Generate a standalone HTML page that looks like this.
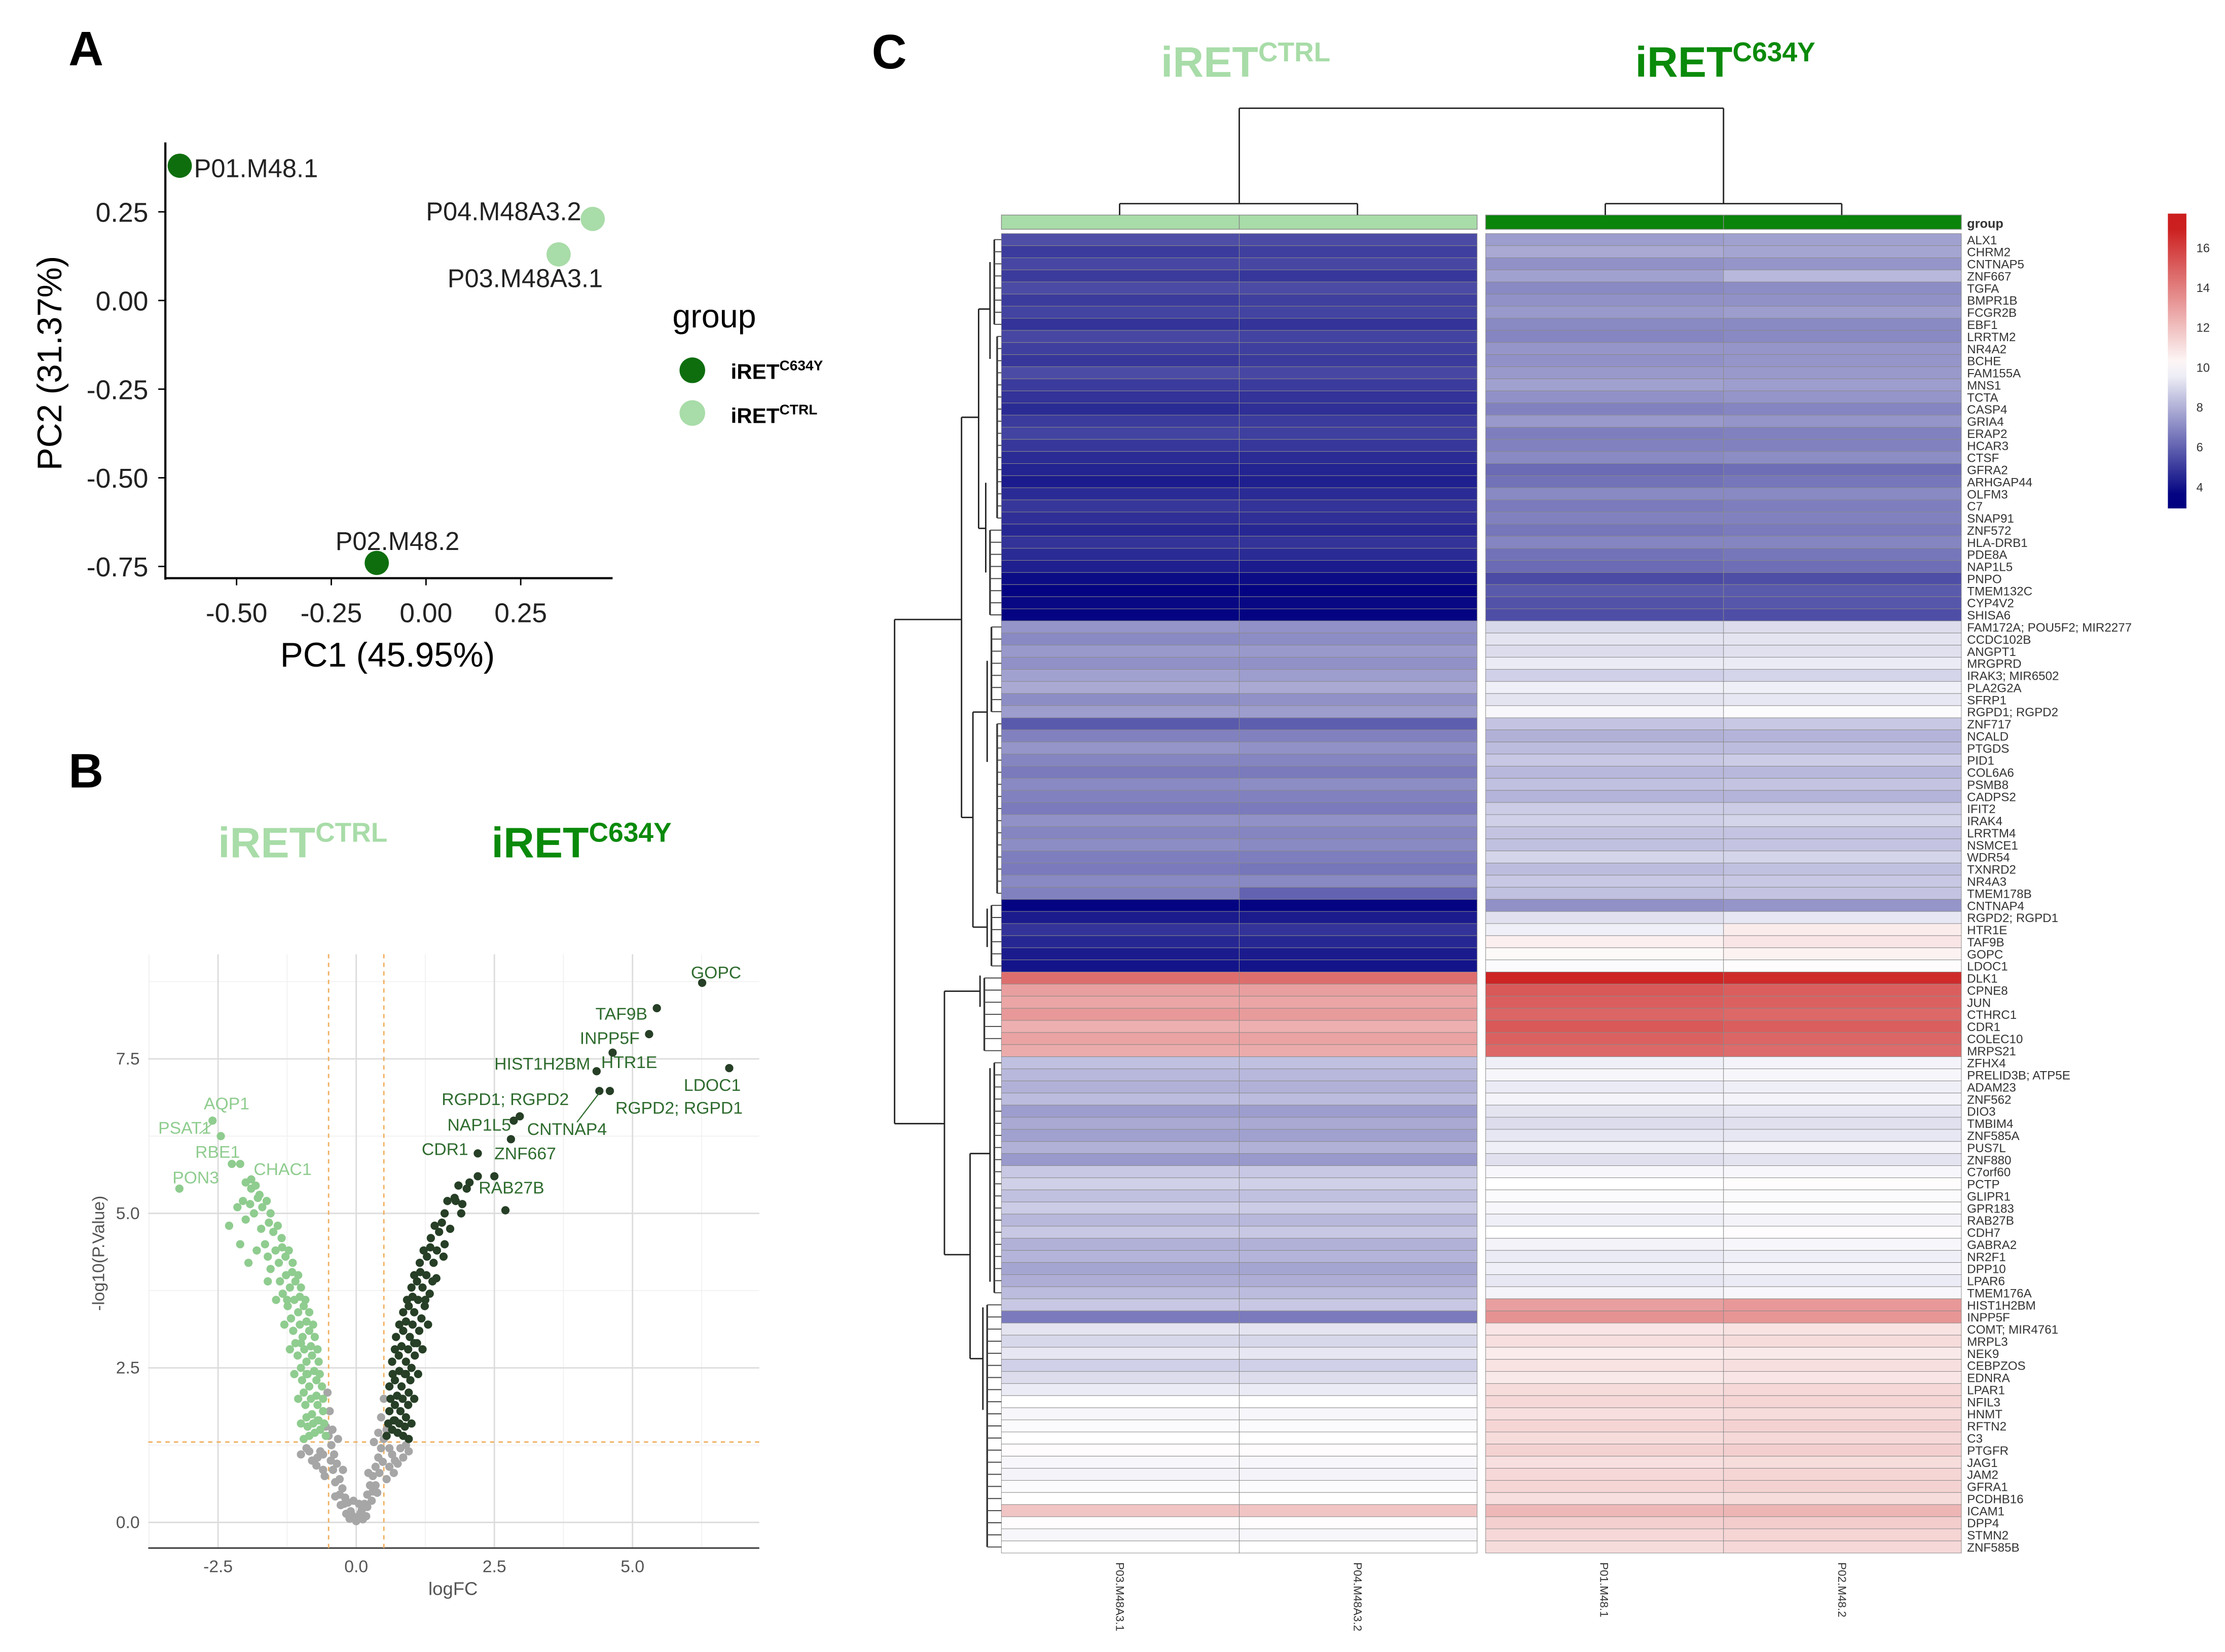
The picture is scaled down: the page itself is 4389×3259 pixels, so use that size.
<!DOCTYPE html>
<html><head><meta charset="utf-8"><style>
html,body{margin:0;padding:0;background:#fff;}
svg{display:block;font-family:"Liberation Sans",Arial,sans-serif;}
</style></head><body>
<svg id="root" xmlns="http://www.w3.org/2000/svg" width="4389" height="3259" viewBox="0 0 1562 1160">
<rect x="0" y="0" width="1562" height="1160" fill="#fff"/>
<text x="48" y="46" font-size="34" font-weight="bold">A</text>
<text x="48" y="553" font-size="34" font-weight="bold">B</text>
<text x="612" y="48" font-size="34" font-weight="bold">C</text>

<g id="pca">
<line x1="116" y1="100" x2="116" y2="407" stroke="#000" stroke-width="1.5"/>
<line x1="116" y1="406" x2="430" y2="406" stroke="#000" stroke-width="1.5"/>
<text x="272" y="468" font-size="24" text-anchor="middle">PC1 (45.95%)</text>
<text transform="translate(43,255) rotate(-90)" font-size="24" text-anchor="middle">PC2 (31.37%)</text>
<text x="472" y="230" font-size="23">group</text>
<circle cx="486" cy="260" r="9" fill="#0e6e0e"/>
<circle cx="486" cy="290" r="9" fill="#a8dca8"/>
<text x="513" y="266" font-size="15" font-weight="bold">iRET<tspan font-size="10" dy="-6">C634Y</tspan></text>
<text x="513" y="297" font-size="15" font-weight="bold">iRET<tspan font-size="10" dy="-6">CTRL</tspan></text>
</g>

<text x="153" y="602" font-size="30" font-weight="bold" fill="#a8dca8">iRET<tspan font-size="19" dy="-11">CTRL</tspan></text>
<text x="345" y="602" font-size="30" font-weight="bold" fill="#0a8a0a">iRET<tspan font-size="19" dy="-11">C634Y</tspan></text>
<g id="volcano"></g>

<text x="815" y="54" font-size="30" font-weight="bold" fill="#a8dca8">iRET<tspan font-size="19" dy="-11">CTRL</tspan></text>
<text x="1148" y="54" font-size="30" font-weight="bold" fill="#0a8a0a">iRET<tspan font-size="19" dy="-11">C634Y</tspan></text>
<g id="heatmap"></g>
</svg>
<script>
const NS="http://www.w3.org/2000/svg";
// ---------- PCA data ----------
const pcaSamples=["P01.M48.1","P04.M48A3.2","P03.M48A3.1","P02.M48.2"];
const pcaPC1=[-0.65,0.44,0.35,-0.13];
const pcaPC2=[0.38,0.23,0.13,-0.74];
const pcaGroup=["C634Y","CTRL","CTRL","C634Y"];
const pcaXTicks=[-0.50,-0.25,0.00,0.25];
const pcaYTicks=[0.25,0.00,-0.25,-0.50,-0.75];
// ---------- Volcano data ----------
const grayFC=[0,0.05,-0.05,0.1,-0.1,0.15,-0.15,0.2,-0.2,0.25,-0.25,0.3,-0.3,0.35,-0.35,0.4,-0.4,0.45,-0.45,0.5,-0.5,0.55,-0.55,0.45,-0.48,0.5,-0.52,0.6,-0.6,0.7,-0.7,0.8,-0.85,0.9,-0.9,0.2,-0.22,0.3,-0.3,0.12,-0.12,0.35,-0.38,0.42,-0.42,0.6,-0.6,0.05,-0.05,0.65,-0.65,0.75,-0.78,0.08,-0.08,0.18,-0.18,0.28,-0.28,0.38,-0.38,0.48,-0.46,0.55,-0.57,0.68,-0.72,0.85,-0.8,0.95,-1.0,0.4,-0.43,0.32,-0.33,0.22,-0.24];
const grayP=[0.02,0.1,0.08,0.2,0.18,0.3,0.32,0.45,0.4,0.6,0.55,0.75,0.7,0.9,0.95,1.05,1.1,1.2,1.25,1.35,1.4,1.5,1.55,1.7,1.8,2.0,2.1,1.2,1.1,1.0,1.05,1.2,1.15,1.25,1.2,0.25,0.3,0.5,0.45,0.05,0.06,0.6,0.65,0.8,0.85,0.9,0.85,0.3,0.35,1.1,1.15,0.95,1.0,0.15,0.12,0.1,0.14,0.35,0.28,0.48,0.42,0.98,1.0,0.7,0.75,0.8,0.92,1.05,1.0,1.15,1.1,1.45,1.5,1.3,1.35,0.8,0.85];
const downFC=[-0.55,-0.65,-0.75,-0.85,-0.95,-0.6,-0.7,-0.8,-0.9,-1.0,-0.62,-0.72,-0.85,-0.95,-1.05,-0.68,-0.8,-0.9,-1.0,-1.12,-0.75,-0.85,-0.97,-1.1,-1.2,-0.85,-0.95,-1.05,-1.18,-1.3,-1.0,-1.1,-1.2,-1.33,-1.45,-1.15,-1.28,-1.4,-1.55,-1.35,-1.5,-1.65,-1.8,-1.55,-1.7,-1.85,-2.0,-1.75,-1.9,-2.05,-2.3,-2.1,-1.95,-2.6,-2.45,-2.25,-2.1,-3.2,-1.9,-0.7,-0.9,-1.0,-1.25,-1.6,-0.58,-0.68,-0.78,-0.88,-0.6,-0.72,-0.82,-0.92,-0.66,-0.76,-0.88,-0.98,-0.7,-0.82,-0.94,-1.06,-0.78,-0.9,-1.02,-1.14,-0.92,-1.02,-1.12,-1.24,-1.05,-1.16,-1.27,-1.38,-1.22,-1.34,-1.46,-1.6,-1.42,-1.58,-1.72,-1.62,-1.78,-1.92,-1.82,-2.0,-2.15];
const downP=[1.4,1.5,1.45,1.4,1.35,1.8,1.9,1.75,1.7,1.6,2.2,2.3,2.2,2.1,2.0,2.6,2.7,2.6,2.5,2.4,3.0,3.1,3.0,2.9,2.8,3.4,3.5,3.4,3.3,3.2,3.8,3.9,3.8,3.7,3.6,4.2,4.3,4.2,4.1,4.6,4.7,4.5,4.4,5.0,5.1,5.0,4.9,5.3,5.4,5.2,4.8,4.5,4.2,6.5,6.25,5.8,5.8,5.4,5.55,1.65,2.4,2.9,3.6,3.9,1.6,1.65,1.6,1.55,2.0,2.05,2.0,1.9,2.4,2.45,2.4,2.3,2.8,2.85,2.8,2.7,3.2,3.25,3.2,3.1,3.6,3.65,3.6,3.5,4.0,4.05,4.0,3.9,4.4,4.45,4.4,4.3,4.8,4.85,4.75,5.2,5.25,5.15,5.45,5.5,5.1];
const upFC=[0.55,0.65,0.75,0.85,0.95,0.6,0.7,0.8,0.9,1.0,0.6,0.7,0.82,0.95,1.05,0.65,0.77,0.9,1.0,1.12,0.72,0.85,0.97,1.1,1.2,0.85,0.95,1.05,1.18,1.3,1.0,1.1,1.2,1.33,1.15,1.28,1.4,1.35,1.5,1.6,1.6,1.8,1.9,2.0,2.2,2.7,6.26,5.44,5.3,4.64,6.75,4.35,4.59,4.4,2.96,2.85,2.8,2.2,2.5,0.7,0.9,1.05,1.25,1.45,0.58,0.68,0.78,0.88,0.62,0.74,0.84,0.94,0.66,0.78,0.88,0.98,0.7,0.82,0.94,1.06,0.78,0.9,1.02,1.14,0.92,1.02,1.12,1.24,1.05,1.16,1.27,1.38,1.22,1.34,1.46,1.58,1.42,1.55,1.7,1.65,1.78,1.92,1.85,2.05];
const upP=[1.4,1.5,1.45,1.4,1.35,1.8,1.9,1.8,1.7,1.6,2.2,2.3,2.2,2.1,2.0,2.6,2.7,2.6,2.5,2.4,3.0,3.1,3.0,2.9,2.8,3.4,3.5,3.4,3.3,3.2,3.8,3.9,3.8,3.7,4.2,4.3,4.2,4.6,4.7,4.5,5.0,5.2,5.0,5.4,5.6,5.05,8.73,8.32,7.9,7.6,7.35,7.3,6.98,6.98,6.57,6.5,6.2,5.97,5.6,1.65,2.4,2.9,3.6,3.95,1.6,1.65,1.6,1.55,2.0,2.05,2.0,1.9,2.4,2.45,2.4,2.3,2.8,2.85,2.8,2.7,3.2,3.25,3.2,3.1,3.6,3.65,3.6,3.5,4.0,4.05,4.0,3.9,4.4,4.45,4.4,4.3,4.8,4.85,4.75,5.2,5.25,5.15,5.45,5.5];
const volXTicks=[-2.5,0.0,2.5,5.0];
const volYTicks=[0.0,2.5,5.0,7.5];
const volLabels=["GOPC","TAF9B","INPP5F","HIST1H2BM","HTR1E","LDOC1","RGPD1; RGPD2","RGPD2; RGPD1","NAP1L5","CNTNAP4","CDR1","ZNF667","RAB27B","AQP1","PSAT1","RBE1","PON3","CHAC1"];
// ---------- Heatmap data ----------
const genes=["ALX1","CHRM2","CNTNAP5","ZNF667","TGFA","BMPR1B","FCGR2B","EBF1","LRRTM2","NR4A2","BCHE","FAM155A","MNS1","TCTA","CASP4","GRIA4","ERAP2","HCAR3","CTSF","GFRA2","ARHGAP44","OLFM3","C7","SNAP91","ZNF572","HLA-DRB1","PDE8A","NAP1L5","PNPO","TMEM132C","CYP4V2","SHISA6","FAM172A; POU5F2; MIR2277","CCDC102B","ANGPT1","MRGPRD","IRAK3; MIR6502","PLA2G2A","SFRP1","RGPD1; RGPD2","ZNF717","NCALD","PTGDS","PID1","COL6A6","PSMB8","CADPS2","IFIT2","IRAK4","LRRTM4","NSMCE1","WDR54","TXNRD2","NR4A3","TMEM178B","CNTNAP4","RGPD2; RGPD1","HTR1E","TAF9B","GOPC","LDOC1","DLK1","CPNE8","JUN","CTHRC1","CDR1","COLEC10","MRPS21","ZFHX4","PRELID3B; ATP5E","ADAM23","ZNF562","DIO3","TMBIM4","ZNF585A","PUS7L","ZNF880","C7orf60","PCTP","GLIPR1","GPR183","RAB27B","CDH7","GABRA2","NR2F1","DPP10","LPAR6","TMEM176A","HIST1H2BM","INPP5F","COMT; MIR4761","MRPL3","NEK9","CEBPZOS","EDNRA","LPAR1","NFIL3","HNMT","RFTN2","C3","PTGFR","JAG1","JAM2","GFRA1","PCDHB16","ICAM1","DPP4","STMN2","ZNF585B"];
const sampleNames=["P03.M48A3.1","P04.M48A3.2","P01.M48.1","P02.M48.2"];
const ctrlA=[5.5,5.0,5.3,5.0,5.4,5.0,5.2,4.8,5.3,5.1,4.9,5.4,5.0,4.8,4.6,5.0,5.2,4.9,4.6,4.4,4.2,4.6,4.9,4.7,4.5,4.8,4.6,4.3,3.8,3.6,3.7,3.6,7.3,7.0,7.4,7.2,7.6,7.8,7.1,7.5,5.8,6.8,7.3,6.9,6.6,7.0,6.8,6.6,7.2,6.9,7.1,6.7,6.6,7.0,6.8,3.6,4.2,4.8,4.5,4.2,4.0,14.5,13.0,12.8,13.2,12.5,12.9,12.6,8.4,8.2,8.0,8.3,7.5,7.8,7.6,8.0,7.4,8.6,8.8,8.4,8.7,8.2,8.6,8.0,8.1,7.7,7.9,8.3,8.6,6.6,9.3,9.0,9.4,8.8,9.1,9.5,10.0,9.8,9.9,10.0,10.1,9.8,9.7,9.9,10.0,11.8,10.1,9.8,10.0];
const ctrlB=[5.4,5.1,5.3,4.9,5.4,5.1,5.2,4.8,5.2,5.1,5.0,5.3,5.0,4.8,4.7,5.0,5.1,4.9,4.6,4.4,4.3,4.6,4.8,4.7,4.5,4.8,4.6,4.2,3.8,3.6,3.7,3.6,7.2,7.1,7.4,7.2,7.5,7.8,7.2,7.5,5.9,6.8,7.2,6.9,6.6,7.1,6.8,6.6,7.2,6.9,7.0,6.7,6.5,7.0,6.0,3.6,4.2,4.8,4.5,4.2,4.0,14.5,13.0,12.8,13.1,12.5,12.9,12.6,8.4,8.2,8.0,8.3,7.5,7.8,7.6,8.0,7.4,8.6,8.8,8.4,8.7,8.2,8.6,8.0,8.1,7.7,7.9,8.3,8.6,6.6,9.3,9.0,9.4,8.8,9.1,9.5,10.0,9.8,9.9,10.0,10.1,9.8,9.7,9.9,10.0,11.8,10.1,9.8,10.0];
const mutA=[7.5,7.8,7.2,7.6,7.0,7.2,7.4,7.0,6.9,7.3,7.2,7.4,7.6,7.2,6.8,7.4,6.7,6.8,7.0,6.2,6.4,7.0,6.6,6.8,6.5,6.9,6.4,6.2,5.4,5.8,5.6,5.5,9.0,9.3,9.1,9.5,8.8,9.6,9.3,9.8,8.5,8.0,8.3,8.6,8.2,8.4,8.1,8.7,8.8,8.5,8.4,8.9,8.3,8.6,8.4,7.2,9.2,9.6,10.5,10.2,9.9,16.8,15.2,15.0,14.8,15.2,14.9,14.7,9.6,9.8,9.5,9.7,9.3,9.1,9.4,9.6,9.2,9.8,10.0,9.9,9.8,9.6,10.0,9.7,9.5,9.6,9.4,9.7,13.0,13.4,10.8,11.0,10.6,10.9,10.7,11.1,11.2,11.0,11.3,11.1,11.4,11.0,11.2,11.3,11.0,12.2,11.5,11.2,11.1];
const mutB=[7.6,7.7,7.3,8.2,7.1,7.2,7.5,7.0,7.0,7.3,7.3,7.4,7.5,7.3,6.9,7.3,6.8,6.8,7.1,6.3,6.5,7.0,6.7,6.8,6.6,6.9,6.5,6.3,5.5,5.8,5.7,5.5,9.1,9.3,9.2,9.5,8.9,9.6,9.4,9.9,8.6,8.1,8.3,8.7,8.2,8.5,8.1,8.7,8.9,8.5,8.5,8.9,8.4,8.6,8.5,7.3,9.4,10.6,10.8,10.4,10.1,16.6,15.0,14.9,14.7,15.0,14.8,14.6,9.7,9.8,9.6,9.7,9.4,9.2,9.4,9.7,9.3,9.8,10.1,9.9,9.9,9.7,10.1,9.8,9.6,9.7,9.5,9.8,13.2,13.3,10.9,11.1,10.7,11.0,10.8,11.2,11.3,11.1,11.4,11.2,11.5,11.1,11.3,11.4,11.1,12.3,11.6,11.3,11.2];
const colorbarTicks=[16,14,12,10,8,6,4];

function mk(tag,attrs,parent){const e=document.createElementNS(NS,tag);for(const k in attrs)e.setAttribute(k,attrs[k]);(parent||document.getElementById('root')).appendChild(e);return e;}

(function(){
  const g=document.getElementById('pca');
  const px=v=>299+v*266, py=v=>211-v*249;
  pcaXTicks.forEach(t=>{
    const l=mk('line',{x1:px(t),x2:px(t),y1:406,y2:411,stroke:'#000'},g);
    
    
    const tx=mk('text',{x:px(t),y:437,'font-size':19,'text-anchor':'middle',fill:'#222'},g);
    
    
    tx.textContent=t.toFixed(2);
  });
  pcaYTicks.forEach(t=>{
    const l=mk('line',{x1:111,x2:116,y1:py(t),y2:py(t),stroke:'#000'},g);
    
    
    const tx=mk('text',{x:104,y:py(t)+7,'font-size':19,'text-anchor':'end',fill:'#222'},g);
    
    
    tx.textContent=t.toFixed(2);
  });
  const lblOff=[[10,8,'start'],[-8,1,'end'],[-78,23,'start'],[-29,-9,'start']];
  pcaSamples.forEach((s,i)=>{
    const c=mk('circle',{cx:px(pcaPC1[i]),cy:py(pcaPC2[i]),r:8.5,fill:pcaGroup[i]==='CTRL'?'#a8dca8':'#0e6e0e'},g);
    
    
    const t=mk('text',{x:px(pcaPC1[i])+lblOff[i][0],y:py(pcaPC2[i])+lblOff[i][1],'font-size':18,'text-anchor':lblOff[i][2],fill:'#222'},g);
    
    
    t.textContent=s;
  });
})();

(function(){
  const g=document.getElementById('volcano');
  const X0=104,X1=533,Y0=670,Y1=1087;
  const vx=v=>250+v*38.8, vy=v=>1069-v*43.4;
  [-3.75,-1.25,1.25,3.75,6.25].forEach(t=>{const l=mk('line',{x1:vx(t),x2:vx(t),y1:Y0,y2:Y1,stroke:'#f0f0f0','stroke-width':0.6},g);});
  [1.25,3.75,6.25,8.75].forEach(t=>{const l=mk('line',{x1:X0,x2:X1,y1:vy(t),y2:vy(t),stroke:'#f0f0f0','stroke-width':0.6},g);});
  volXTicks.forEach(t=>{
    const l=mk('line',{x1:vx(t),x2:vx(t),y1:Y0,y2:Y1,stroke:'#dcdcdc','stroke-width':1},g);
    
    
    const tx=mk('text',{x:vx(t),y:1104,'font-size':12,'text-anchor':'middle',fill:'#555'},g);
    
    
    tx.textContent=t.toFixed(1);
  });
  volYTicks.forEach(t=>{
    const l=mk('line',{x1:X0,x2:X1,y1:vy(t),y2:vy(t),stroke:'#dcdcdc','stroke-width':1},g);
    
    
    const tx=mk('text',{x:98,y:vy(t)+4,'font-size':12,'text-anchor':'end',fill:'#555'},g);
    
    
    tx.textContent=t.toFixed(1);
  });
  const ax=mk('line',{x1:X0,x2:X1,y1:Y1,y2:Y1,stroke:'#333','stroke-width':1},g);
  
  
  [-0.5,0.5].forEach(t=>{const l=mk('line',{x1:vx(t),x2:vx(t),y1:Y0,y2:Y1,stroke:'#f0b060','stroke-width':1,'stroke-dasharray':'3,3'},g);});
  const hl=mk('line',{x1:X0,x2:X1,y1:vy(1.3),y2:vy(1.3),stroke:'#f0b060','stroke-width':1,'stroke-dasharray':'3,3'},g);
  
  
  const xt=mk('text',{x:318,y:1120,'font-size':13,'text-anchor':'middle',fill:'#555'},g);
  
  
  xt.textContent='logFC';
  const yt=mk('text',{transform:'translate(73,880) rotate(-90)','font-size':12,'text-anchor':'middle',fill:'#555'},g);
  
  
  yt.textContent='-log10(P.Value)';
  function pts(fc,p,col,name){fc.forEach((v,i)=>{const c=mk('circle',{cx:vx(v),cy:vy(p[i]),r:2.9,fill:col},g);});}
  pts(grayFC,grayP,'#a6a6a6','volcano-point-ns');
  pts(downFC,downP,'#8fcc8f','volcano-point-down');
  pts(upFC,upP,'#263f26','volcano-point-up');
  const lp=[[485,687,'#2e6b2e'],[418,716,'#2e6b2e'],[407,733,'#2e6b2e'],[347,751,'#2e6b2e'],[422,750,'#2e6b2e'],[480,766,'#2e6b2e'],[310,776,'#2e6b2e'],[432,782,'#2e6b2e'],[314,794,'#2e6b2e'],[370,797,'#2e6b2e'],[296,811,'#2e6b2e'],[347,814,'#2e6b2e'],[336,838,'#2e6b2e'],[143,779,'#8fcc8f'],[111,796,'#8fcc8f'],[137,813,'#8fcc8f'],[121,831,'#8fcc8f'],[178,825,'#8fcc8f']];
  volLabels.forEach((s,i)=>{const t=mk('text',{x:lp[i][0],y:lp[i][1],'font-size':12,fill:lp[i][2]},g);t.textContent=s;});
  const ll=mk('line',{x1:405,y1:788,x2:421,y2:767,stroke:'#2e6b2e','stroke-width':0.8},g);
  
  
  const ll2=mk('line',{x1:140,y1:796,x2:150,y2:788,stroke:'#8fcc8f','stroke-width':0.8},g);
  
  
})();

function heatColor(v){
  let r,gg,b;
  if(v<10){let t=Math.min(1,(10-v)/6.5);r=255*(1-t);gg=255*(1-t);b=255-127*t;}
  else{let t=Math.min(1,(v-10)/7);r=255-51*t;gg=255-225*t;b=255-225*t;}
  return 'rgb('+Math.round(r)+','+Math.round(gg)+','+Math.round(b)+')';
}
(function(){
  const g=document.getElementById('heatmap');
  const Y0=164,RH=8.5;
  const colX=[703,870,1043,1210],colW=167;
  const cols=[ctrlA,ctrlB,mutA,mutB];
  const ry=i=>Y0+i*RH;
  [0,1,2,3].forEach(c=>{const r=mk('rect',{x:colX[c],y:151,width:colW,height:10,fill:c<2?'#a8dca8':'#0a840a',stroke:'#888','stroke-width':0.5},g);});
  const gl=mk('text',{x:1381,y:160,'font-size':9,'font-weight':'bold',fill:'#333'},g);
  
  
  gl.textContent='group';
  genes.forEach((gn,i)=>{
    cols.forEach((arr,c)=>{
      const r=mk('rect',{x:colX[c],y:ry(i),width:colW,height:RH,fill:heatColor(arr[i]),stroke:'#8a8a8a','stroke-width':0.35},g);
      
      
    });
    const t=mk('text',{x:1381,y:ry(i)+RH-1,'font-size':8.6,fill:'#333'},g);
    
    
    t.textContent=gn;
  });
  sampleNames.forEach((s,c)=>{
    const t=mk('text',{transform:'translate('+(colX[c]+colW/2-3)+',1097) rotate(90)','font-size':8,fill:'#333'},g);
    
    
    t.textContent=s;
  });
  const cd=[[870,76,1210,76],[870,76,870,143],[1210,76,1210,143],[786,143,953,143],[786,143,786,151],[953,143,953,151],[1127,143,1293,143],[1127,143,1127,151],[1293,143,1293,151]];
  cd.forEach(s=>{const l=mk('line',{x1:s[0],y1:s[1],x2:s[2],y2:s[3],stroke:'#222','stroke-width':1},g);});
  const rd=[[628,435,628,789],[628,435,675,435],[628,789,663,789],[675,293,675,574],[675,293,687,293],[675,574,683,574],[687,217,687,371],[687,217,695,217],[687,371,692,371],[683,500,683,651],[683,500,693,500],[683,651,693,651],[663,696,663,881],[663,696,688,696],[663,881,681,881],[688,685,688,707],[681,810,681,954],[681,810,695,810],[681,954,690,954],[695,184,695,252],[692,339,692,402],[693,464,693,535],[693,638,693,665],[695,750,695,900],[690,918,690,990]];
  rd.forEach(s=>{const l=mk('line',{x1:s[0],y1:s[1],x2:s[2],y2:s[3],stroke:'#222','stroke-width':1},g);});
  const leafStart=[[695,0,8],[697,8,24],[692,24,32],[693,32,40],[697,40,55],[693,55,61],[688,61,68],[695,68,88],[690,88,109]];
  leafStart.forEach(ls=>{
    const v=mk('line',{x1:ls[0]+3,y1:ry(ls[1])+RH/2,x2:ls[0]+3,y2:ry(ls[2]-1)+RH/2,stroke:'#333','stroke-width':1.2},g);
    
    
    for(let i=ls[1];i<ls[2];i++){
      const l=mk('line',{x1:ls[0]+3,y1:ry(i)+RH/2,x2:703,y2:ry(i)+RH/2,stroke:'#444','stroke-width':0.7},g);
      
      
    }
  });
  const defs=mk('defs',{},g);
  const grad=mk('linearGradient',{id:'cbar',x1:0,y1:1,x2:0,y2:0},defs);
  for(let k=0;k<=20;k++){const v=2.9+k*(17.7-2.9)/20;mk('stop',{offset:(k/20),'stop-color':heatColor(v)},grad);}
  const cb=mk('rect',{x:1522,y:150,width:13,height:207,fill:'url(#cbar)'},g);
  
  
  colorbarTicks.forEach(t=>{
    const tx=mk('text',{x:1542,y:342-(t-4)*14+3,'font-size':8.5,fill:'#333'},g);
    
    
    tx.textContent=t;
  });
})();
</script>
</body></html>
